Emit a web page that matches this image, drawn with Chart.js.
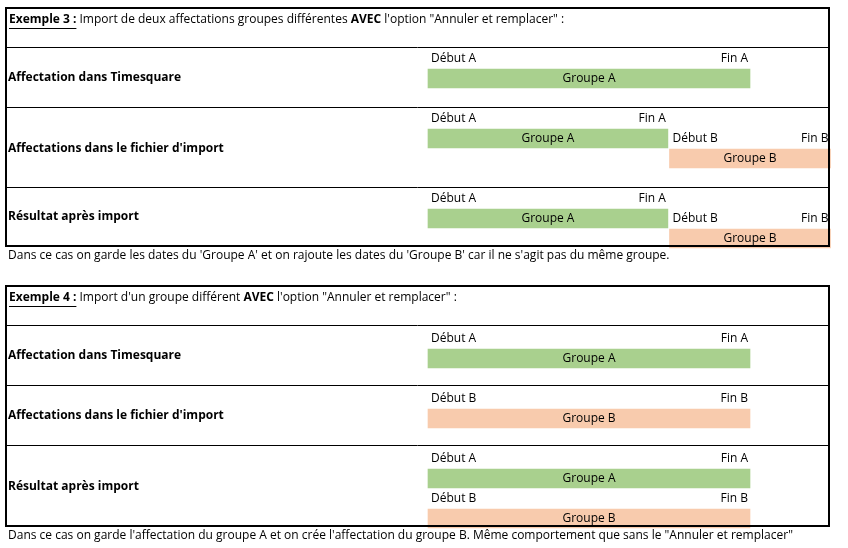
<!DOCTYPE html>
<html><head><meta charset="utf-8">
<script src="https://cdn.jsdelivr.net/npm/chart.js@4"></script>
<style>html,body{margin:0;padding:0;background:#fff;overflow:hidden}canvas{display:block}</style>
</head><body><canvas id="c" width="848" height="548"></canvas>
<script>
// Time units (Début A = 0). Lanes = row slot index.
const lanes      = [3, 6, 7, 10, 11, 17, 20, 23, 25];
const starts     = [0, 0, 7.5, 0, 7.5, 0, 0, 0, 0];
const ends       = [10, 7.45, 12.5, 7.45, 12.5, 10, 10, 10, 10];
const groups     = ['A','A','B','A','B','A','B','A','B'];
const barLabels  = groups.map(g => 'Groupe ' + g);
const rowLabels  = ['Affectation dans Timesquare', "Affectations dans le fichier d'import", 'Résultat après import',
                    'Affectation dans Timesquare', "Affectations dans le fichier d'import", 'Résultat après import'];
const colors = {A:'#a9d08e', B:'#f8cbad'};
const FONT = '"Open Sans", sans-serif';

const ds = {
  data: lanes.map((l,i)=>({x:[starts[i],ends[i]], y:l})),
  backgroundColor: groups.map(g=>colors[g]),
  barThickness: 19, borderWidth: 0, borderSkipped:false
};

const deco = {
  id:'deco',
  afterDatasetsDraw(ch){
    const c = ch.ctx, xs = ch.scales.x, ys = ch.scales.y;
    c.save();
    c.strokeStyle='#000'; c.fillStyle='#000';
    const L=6, R=829;
    function box(top, lines, bottom){
      c.lineWidth=2; c.strokeRect(L, top, R-L, bottom-top);
      c.lineWidth=1;
      lines.forEach(y=>{c.beginPath();c.moveTo(L,y+0.5);c.lineTo(R,y+0.5);c.stroke();});
    }
    box(8,[47,107,187],246);
    box(286,[325,385,445],526);
    c.textBaseline='middle';
    function header(y, label, pre, bold, post){
      c.font='bold 12px '+FONT; c.textAlign='left';
      c.fillText(label, 9, y);
      let w=c.measureText(label).width;
      c.fillRect(9, y+8, w, 1);
      let x=9+w;
      c.font='12px '+FONT; c.fillText(pre, x, y); x+=c.measureText(pre).width;
      c.font='bold 12px '+FONT; c.fillText(bold, x, y); x+=c.measureText(bold).width;
      c.font='12px '+FONT; c.fillText(post, x, y);
    }
    header(20,'Exemple 3 :',' Import de deux affectations groupes différentes ','AVEC',' l\'option "Annuler et remplacer" :');
    header(298,'Exemple 4 :',' Import d\'un groupe différent ','AVEC',' l\'option "Annuler et remplacer" :');
    const rowY=[78,149,217,356,416,487];
    c.font='bold 12px '+FONT;
    rowLabels.forEach((t,i)=>c.fillText(t,8,rowY[i]));
    ch.getDatasetMeta(0).data.forEach((b,i)=>{
      const x0=xs.getPixelForValue(starts[i]), x1=xs.getPixelForValue(ends[i]);
      const yc=ys.getPixelForValue(lanes[i]);
      c.font='12px '+FONT;
      c.textAlign='center'; c.fillText(barLabels[i],(x0+x1)/2,yc);
      c.textAlign='left'; c.fillText('Début '+groups[i], x0+3, yc-20);
      c.textAlign='right'; c.fillText('Fin '+groups[i], x1-2, yc-20);
    });
    c.textAlign='left'; c.font='12px '+FONT;
    c.fillText("Dans ce cas on garde les dates du 'Groupe A' et on rajoute les dates du 'Groupe B' car il ne s'agit pas du même groupe.",8,256);
    c.fillText("Dans ce cas on garde l'affectation du groupe A et on crée l'affectation du groupe B. Même comportement que sans le \"Annuler et remplacer\"",8,536);
    c.restore();
  }
};

new Chart(document.getElementById('c'),{
  type:'bar',
  data:{datasets:[ds]},
  options:{
    indexAxis:'y', responsive:false, animation:false, devicePixelRatio:1,
    layout:{padding:0},
    plugins:{legend:{display:false},tooltip:{enabled:false}},
    scales:{
      x:{type:'linear',min:-428/32.2,max:(848-428)/32.2,display:false,offset:false},
      y:{type:'linear',min:-18.5/20,max:(548-18.5)/20,reverse:true,display:false,offset:false}
    }
  },
  plugins:[deco]
});
</script></body></html>
